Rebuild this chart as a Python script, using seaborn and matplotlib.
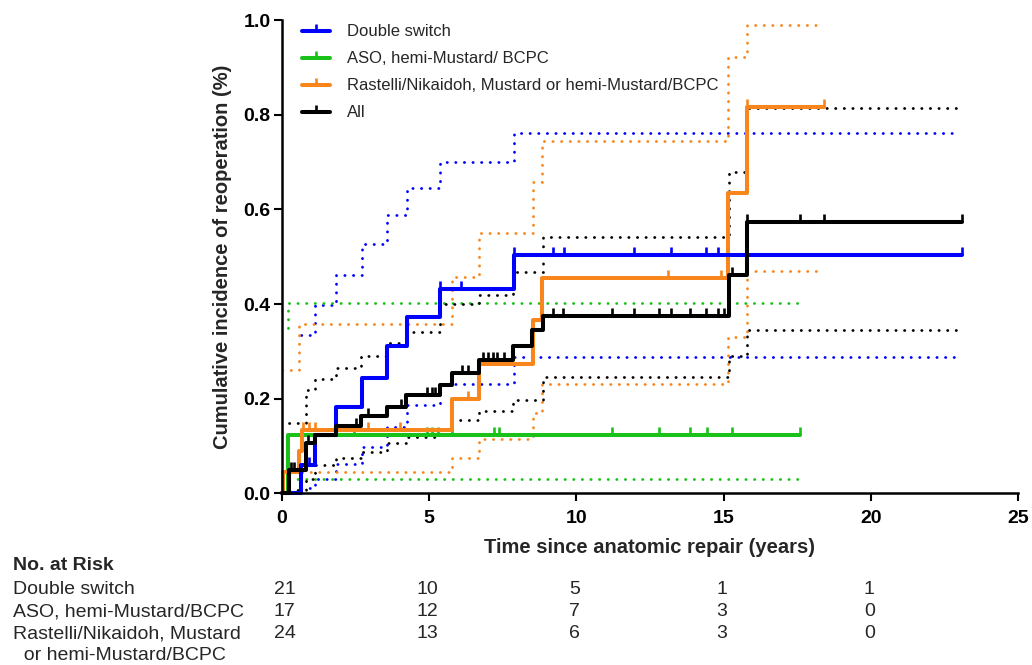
import numpy as np
import matplotlib
matplotlib.use('Agg')
import matplotlib.pyplot as plt
import matplotlib.transforms as mtransforms
from matplotlib.path import Path
from matplotlib.lines import Line2D
import seaborn as sns

# Double switch
ds_time = [0, 0.67, 1.14, 1.84, 2.72, 3.58, 4.24, 5.38, 7.88, 23.1]
ds_inc = [0, 0.060, 0.123, 0.183, 0.243, 0.312, 0.372, 0.432, 0.504, 0.504]
ds_ci_time = [0.67, 1.14, 1.84, 2.72, 3.58, 4.24, 5.38, 7.88, 22.9]
ds_upper = [0.334, 0.398, 0.461, 0.527, 0.589, 0.645, 0.700, 0.761, 0.761]
ds_lower = [0.011, 0.030, 0.063, 0.098, 0.141, 0.187, 0.232, 0.289, 0.289]
ds_censor = [0.78, 0.94, 5.38, 6.08, 7.88, 9.2, 9.58, 11.95, 13.2, 14.4, 14.8, 23.1]

# ASO, hemi-Mustard/BCPC
aso_time = [0, 0.2, 17.6]
aso_inc = [0, 0.123, 0.123]
aso_up_time = [0.2, 0.2, 17.55]
aso_upper = [0.35, 0.403, 0.403]
aso_low_time = [0.25, 17.55]
aso_lower = [0.031, 0.031]
aso_censor = [2.46, 4.92, 5.09, 5.32, 5.77, 7.2, 7.37, 11.2, 12.8, 13.85, 14.45, 15.3, 17.6]

# Rastelli/Nikaidoh, Mustard or hemi-Mustard/BCPC
ras_time = [0, 0.03, 0.6, 0.7, 5.77, 6.7, 8.54, 8.82, 15.15, 15.8, 18.4]
ras_inc = [0, 0.045, 0.090, 0.134, 0.200, 0.273, 0.366, 0.455, 0.634, 0.817, 0.817]
ras_up_time = [0, 0.6, 5.77, 6.7, 8.54, 8.82, 15.15, 15.8, 18.3]
ras_upper = [0.261, 0.359, 0.458, 0.550, 0.659, 0.745, 0.922, 0.989, 0.989]
ras_low_time = [0.7, 5.77, 6.7, 8.54, 8.82, 15.15, 15.8, 18.3]
ras_lower = [0.045, 0.075, 0.116, 0.169, 0.232, 0.331, 0.469, 0.469]
ras_censor = [0.71, 0.92, 1.14, 2.92, 4.01, 6.33, 13.1, 14.93, 15.8, 18.4]

# All
all_time = [0, 0.25, 0.82, 1.14, 1.84, 2.7, 3.58, 4.23, 5.37, 5.77, 6.7, 7.86, 8.5, 8.86, 15.17, 15.8, 23.1]
all_inc = [0, 0.049, 0.106, 0.123, 0.142, 0.163, 0.183, 0.208, 0.229, 0.254, 0.282, 0.311, 0.345, 0.374, 0.462, 0.574, 0.574]
all_up_time = [0.25, 0.82, 1.14, 1.84, 2.7, 3.58, 4.23, 5.37, 6.7, 7.86, 8.86, 15.17, 15.8, 23.0]
all_upper = [0.148, 0.218, 0.241, 0.265, 0.290, 0.317, 0.341, 0.401, 0.420, 0.468, 0.542, 0.680, 0.814, 0.814]
all_low_time = [0.25, 0.82, 1.14, 1.84, 2.7, 3.58, 4.23, 5.37, 5.77, 6.7, 7.86, 8.86, 15.17, 15.8, 23.0]
all_lower = [0.007, 0.030, 0.060, 0.074, 0.088, 0.106, 0.120, 0.137, 0.155, 0.174, 0.197, 0.246, 0.290, 0.346, 0.346]
all_censor = [0.32, 0.42, 0.9, 2.52, 2.92, 4.04, 4.92, 5.09, 5.2, 6.11, 6.33, 6.84, 7.0, 7.18, 7.3, 7.55,
              9.2, 9.55, 11.2, 11.95, 12.8, 13.2, 13.85, 14.4, 14.8, 15.0, 15.3, 15.8, 17.6, 18.4, 23.1]

# number at risk table
risk_times = [0, 5, 10, 15, 20]
risk_ds = [21, 10, 5, 1, 1]
risk_aso = [17, 12, 7, 3, 0]
risk_ras = [24, 13, 6, 3, 0]

blue, green, orange, black = '#0000ff', '#19c119', '#f8861c', '#000000'

groups = [
    ('Double switch', blue, ds_time, ds_inc, ds_ci_time, ds_upper, ds_ci_time, ds_lower, ds_censor),
    ('ASO, hemi-Mustard/ BCPC', green, aso_time, aso_inc, aso_up_time, aso_upper, aso_low_time, aso_lower, aso_censor),
    ('Rastelli/Nikaidoh, Mustard or hemi-Mustard/BCPC', orange, ras_time, ras_inc, ras_up_time, ras_upper,
     ras_low_time, ras_lower, ras_censor),
    ('All', black, all_time, all_inc, all_up_time, all_upper, all_low_time, all_lower, all_censor),
]

sns.set_theme(style='ticks')
plt.rcParams['font.family'] = ['Liberation Sans', 'DejaVu Sans']

# upward censor tick
tick = Path([(0, 0), (0, 1)], [Path.MOVETO, Path.LINETO])

fig = plt.figure(figsize=(10.32, 6.65), dpi=100)
ax = fig.add_axes([0.273, 0.258, 0.7135, 0.7117])

# confidence bands (dotted) first
for name, col, t, y, ut, uy, lt, ly, cens in groups:
    for xx, yy in [(ut, uy), (lt, ly)]:
        sns.lineplot(x=xx, y=yy, ax=ax, color=col, estimator=None, sort=False, errorbar=None,
                     drawstyle='steps-post', lw=2.0, legend=False)
        ln = ax.lines[-1]
        ln.set_linestyle((0, (0.1, 3.0)))
        ln.set_dash_capstyle('round')

order = [1, 2, 0, 3]
for i in order:
    name, col, t, y, ut, uy, lt, ly, cens = groups[i]
    sns.lineplot(x=t, y=y, ax=ax, color=col, estimator=None, sort=False, errorbar=None,
                 drawstyle='steps-post', lw=2.9, clip_on=False, legend=False)
    t_arr = np.array(t)
    cy = np.array(y)[np.searchsorted(t_arr, cens, side='right') - 1]
    ax.plot(cens, cy, linestyle='none', marker=tick, ms=12, mew=1.9, color=col, clip_on=False)

ax.set_xlim(0, 25)
ax.set_ylim(0, 1.0)
ax.set_xticks([0, 5, 10, 15, 20, 25])
ax.set_yticks([0, 0.2, 0.4, 0.6, 0.8, 1.0])
ax.set_yticklabels(['0.0', '0.2', '0.4', '0.6', '0.8', '1.0'])
ax.tick_params(axis='both', length=6, width=1.5, color='black', labelsize=14, labelcolor='black')
ax.tick_params(axis='x', pad=6)
ax.tick_params(axis='y', pad=2)
for lab in ax.get_xticklabels() + ax.get_yticklabels():
    lab.set_fontweight('bold')
for side in ['top', 'right']:
    ax.spines[side].set_visible(False)
for side in ['left', 'bottom']:
    ax.spines[side].set_linewidth(1.8)
    ax.spines[side].set_color('black')

ax.set_xlabel('Time since anatomic repair (years)', fontsize=14.5, fontweight='bold', labelpad=8)
ax.set_ylabel('Cumulative incidence of reoperation (%)', fontsize=14.5, fontweight='bold', labelpad=8)

handles = [Line2D([], [], color=g[1], lw=2.9, marker=tick, ms=10, mew=1.9) for g in groups]
ax.legend(handles, [g[0] for g in groups], loc='upper left', bbox_to_anchor=(0.027, 0.991),
          frameon=False, fontsize=12, borderpad=0, borderaxespad=0, handlelength=1.7,
          handletextpad=1.0, labelspacing=0.72, numpoints=1)

# number at risk table
H = 665.0
fig.text(13 / 1032, 1 - 566 / H, 'No. at Risk', fontsize=14, fontweight='bold', va='center', ha='left')
row_y = [589, 612, 634]
row_names = ['Double switch', 'ASO, hemi-Mustard/BCPC', 'Rastelli/Nikaidoh, Mustard']
for name, yy in zip(row_names, row_y):
    fig.text(13 / 1032, 1 - yy / H, name, fontsize=14, va='center', ha='left')
fig.text(13 / 1032, 1 - 656 / H, '  or hemi-Mustard/BCPC', fontsize=14, va='center', ha='left')

trans = mtransforms.blended_transform_factory(ax.transData, fig.transFigure)
for counts, yy in zip([risk_ds, risk_aso, risk_ras], row_y):
    for tt, n in zip(risk_times, counts):
        xpos = tt + 0.1 if tt == 0 else tt - 0.05
        fig.text(xpos, 1 - yy / H, str(n), fontsize=14, va='center', ha='center', transform=trans)

fig.savefig('out.png', dpi=100)
